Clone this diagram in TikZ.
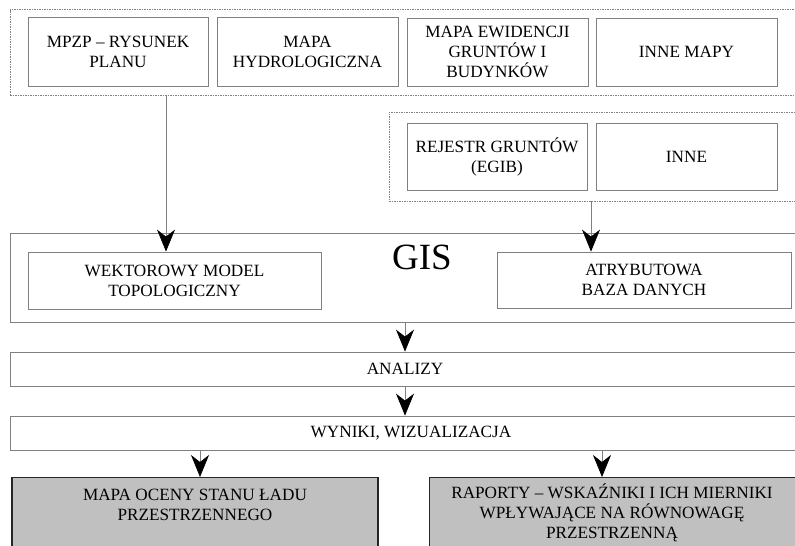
\documentclass[tikz,border=0pt]{standalone}
\usepackage{fontspec}
\setmainfont{Liberation Serif}
\newfontfamily\diagfont{Liberation Serif}
\usetikzlibrary{arrows.meta}
\definecolor{edge}{HTML}{808080}
\definecolor{shade}{HTML}{C0C0C0}
\tikzset{
  box/.style={draw=edge, line width=0.8pt, align=center, inner sep=0pt,
    font=\diagfont\fontsize{17.2}{20}\selectfont},
  dbox/.style={draw=edge, line width=0.6pt, dash pattern=on 1.5pt off 1pt, inner sep=0pt},
  gbox/.style={draw=black!85, line width=1.4pt, fill=shade, inner sep=0pt},
  txt/.style={align=center, inner sep=0pt, font=\diagfont\fontsize{17.2}{20}\selectfont},
  arr/.style={draw=edge, line width=0.7pt,
    -{Stealth[length=22pt,width=18pt,inset=7pt,color=black]}},
}
\begin{document}
\begin{tikzpicture}[x=1pt,y=-1pt]
\useasboundingbox (0,0) rectangle (795,546);
\clip (0,0) rectangle (795,546);
\fill[white] (0,0) rectangle (795,546);

% top group of maps
\node[dbox, minimum width=790, minimum height=86] (tb) at (405,52.5) {};
\node[box, minimum width=180, minimum height=69] (mpzp) at (118,51.5) {MPZP – RYSUNEK\\PLANU};
\node[box, minimum width=181, minimum height=69] (hydro) at (307.5,51.5) {MAPA\\HYDROLOGICZNA};
\node[box, minimum width=181, minimum height=68] (ewid) at (497.5,52) {MAPA EWIDENCJI\\GRUNTÓW I\\BUDYNKÓW};
\node[box, minimum width=181, minimum height=68] (innemapy) at (686.5,52) {INNE MAPY};

% second group
\node[dbox, minimum width=411, minimum height=89] (db2) at (594.5,156.5) {};
\node[box, minimum width=180, minimum height=67] (rej) at (497,156.5) {REJESTR GRUNTÓW\\(EGIB)};
\node[box, minimum width=181, minimum height=67] (inne) at (686.5,156.5) {INNE};

% GIS
\node[box, minimum width=790, minimum height=89] (gis) at (405,277.5) {};
\node[inner sep=0pt, font=\diagfont\fontsize{37}{40}\selectfont] (gislabel) at (422,257.5) {GIS};
\node[box, minimum width=293, minimum height=57] (wek) at (174.5,280.5) {WEKTOROWY MODEL\\TOPOLOGICZNY};
\node[box, minimum width=294, minimum height=56.5] (atr) at (644,280.25) {ATRYBUTOWA\\BAZA DANYCH};

% analyses and results
\node[box, minimum width=790, minimum height=34] (anal) at (405,369) {ANALIZY};
\node[box, minimum width=790, minimum height=34] (wyn) at (405,433) {};
\node[txt, anchor=base] (wyntxt) at (411,437.5) {WYNIKI, WIZUALIZACJA};

% outputs
\node[gbox, minimum width=366, minimum height=120, anchor=north] (ocena) at (195,477) {};
\node[txt, anchor=north] (ocenatxt) at ([yshift=-12pt]ocena.north) {MAPA OCENY STANU ŁADU\\PRZESTRZENNEGO};
\node[gbox, minimum width=400, minimum height=120, anchor=north west] (rap) at (429,477) {};
\node[txt, anchor=north] (raptxt) at (612,484) {RAPORTY – WSKAŹNIKI I ICH MIERNIKI\\WPŁYWAJĄCE NA RÓWNOWAGĘ\\PRZESTRZENNĄ};

% connectors
\coordinate (a1) at (166,0);
\coordinate (a2) at (591,0);
\coordinate (a3) at (405,0);
\coordinate (a4) at (200,0);
\coordinate (a5) at (602,0);
\draw[arr] (tb.south -| a1) -- (wek.north -| a1);
\draw[arr] (db2.south -| a2) -- (atr.north -| a2);
\draw[arr] (gis.south -| a3) -- (anal.north -| a3);
\draw[arr] (anal.south -| a3) -- (wyn.north -| a3);
\draw[arr] (wyn.south -| a4) -- (ocena.north -| a4);
\draw[arr] (wyn.south -| a5) -- (rap.north -| a5);
\end{tikzpicture}
\end{document}
